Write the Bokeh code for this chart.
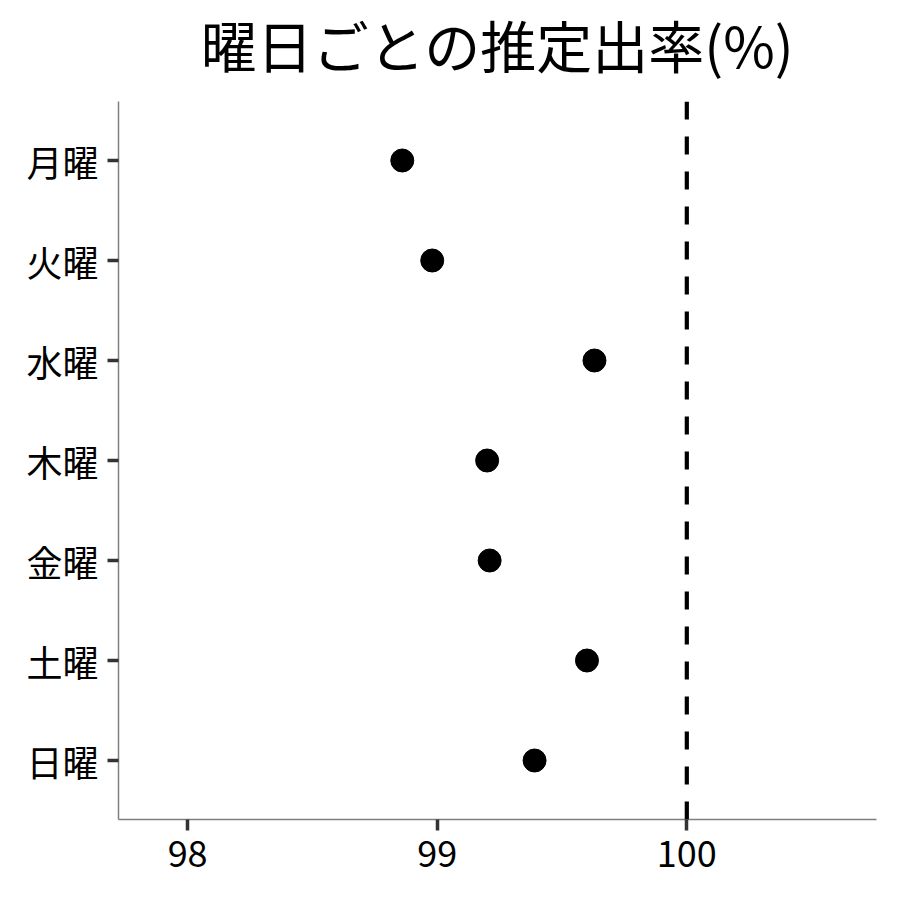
from bokeh.plotting import figure
from bokeh.models import ColumnDataSource, FactorRange, Range1d, Span, FixedTicker, Title
from bokeh.embed import file_html
from bokeh.resources import INLINE

days = ["月曜", "火曜", "水曜", "木曜", "金曜", "土曜", "日曜"]
rates = [98.86, 98.98, 99.63, 99.20, 99.21, 99.60, 99.39]
x_ticks = [98, 99, 100]
ref_value = 100
title_text = "曜日ごとの推定出率(%)"

FONT = "Noto Sans CJK JP"

src = ColumnDataSource(dict(day=days, rate=rates))

p = figure(
    width=900, height=900,
    y_range=FactorRange(factors=list(reversed(days)), range_padding=0.18 / 7),
    x_range=Range1d(97.723, 100.76),
    output_backend="svg", toolbar_location=None,
    min_border_left=118, min_border_right=24, min_border_bottom=81, min_border_top=0,
)
p.title = None

# spacer between title and frame (nearest the frame)
p.add_layout(Title(text=" ", text_font_size="2px", standoff=14), "above")
# main title (outer)
p.add_layout(Title(text=title_text, text_font=FONT, text_font_size="56px",
                   text_font_style="normal", text_color="black", align="center",
                   standoff=0), "above")

p.scatter(x="rate", y="day", source=src, size=23, color="black")

p.add_layout(Span(location=ref_value, dimension="height", line_color="black",
                  line_width=4.2, line_dash="18 17"))

p.xgrid.visible = False
p.ygrid.visible = False
p.outline_line_color = None
p.background_fill_color = "white"

p.xaxis.ticker = FixedTicker(ticks=x_ticks)
for ax in (p.xaxis[0], p.yaxis[0]):
    ax.axis_line_color = "#7f7f7f"
    ax.axis_line_width = 1.5
    ax.major_tick_line_color = "#333333"
    ax.major_tick_line_width = 3.5
    ax.major_tick_out = 11
    ax.major_tick_in = 0
    ax.minor_tick_line_color = None
    ax.major_label_text_font = FONT
    ax.major_label_text_font_size = "36px"
    ax.major_label_text_color = "black"
p.yaxis.major_label_standoff = 9
p.xaxis.major_label_standoff = 10

open("out.html", "w").write(file_html(p, INLINE))
